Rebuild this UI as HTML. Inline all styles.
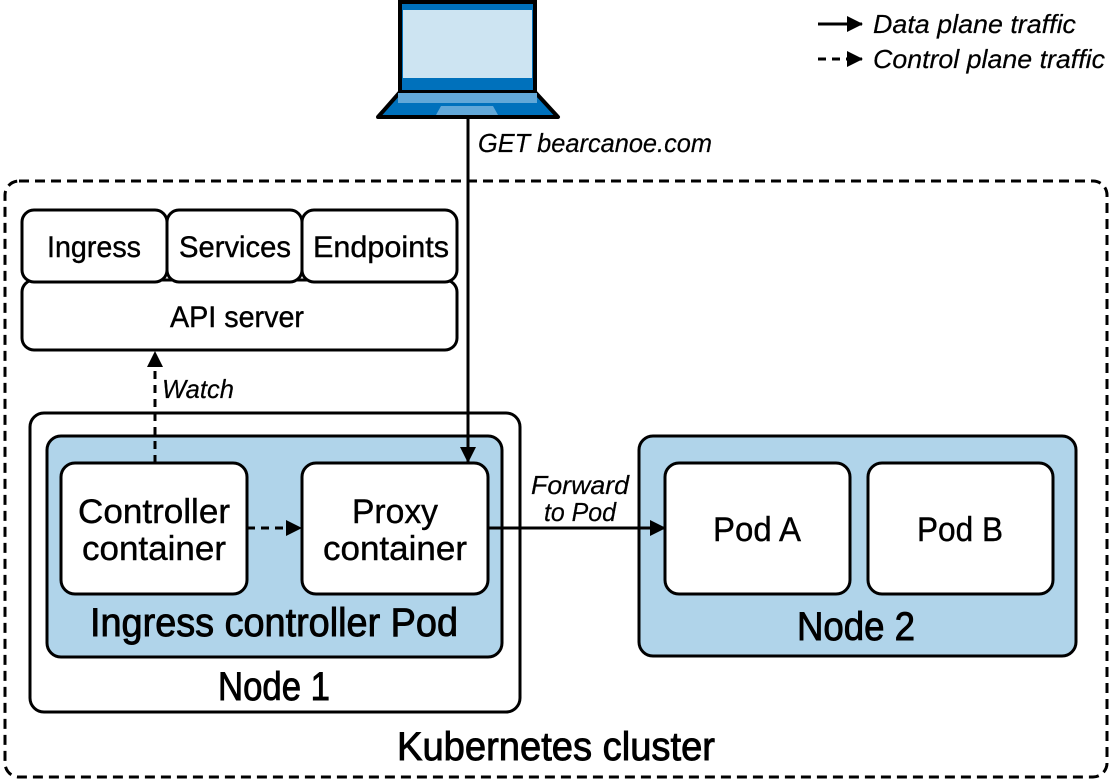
<!DOCTYPE html>
<html><head><meta charset="utf-8"><style>
html,body{margin:0;padding:0;background:#fff;}
svg{display:block;}
text{font-family:"Liberation Sans",sans-serif;fill:#000;stroke:#000;stroke-width:0.4;}
.it{font-style:italic;stroke-width:0.2;}
.big{stroke-width:0.9;}
</style></head><body>
<svg width="1110" height="783" viewBox="0 0 1110 783" xmlns="http://www.w3.org/2000/svg">
<defs>
<marker id="ah2" markerWidth="16" markerHeight="16" refX="15" refY="8" orient="auto" markerUnits="userSpaceOnUse">
<path d="M0,0 L16,8 L0,16 Z" fill="#000"/>
</marker>
</defs>
<rect x="5" y="181" width="1102" height="596" rx="14" fill="none" stroke="#000" stroke-width="3" stroke-dasharray="10,6"/>
<rect x="400" y="2" width="135" height="90" fill="#0071bc" stroke="#000" stroke-width="4"/>
<rect x="403" y="10" width="129" height="68" fill="#cde4f2"/>
<path d="M400,92 L535,92 L558,117 L378,117 Z" fill="#0071bc" stroke="#000" stroke-width="4" stroke-linejoin="round"/>
<rect x="398" y="93" width="139" height="10" fill="#62a8d8"/>
<path d="M441,106 L493,106 L498,115 L436,115 Z" fill="#62a8d8"/>
<line x1="818" y1="24" x2="862" y2="24" stroke="#000" stroke-width="3" marker-end="url(#ah2)"/>
<text x="873" y="33" font-size="26" class="it" textLength="203" lengthAdjust="spacingAndGlyphs">Data plane traffic</text>
<line x1="818" y1="59" x2="862" y2="59" stroke="#000" stroke-width="3" stroke-dasharray="8,6" marker-end="url(#ah2)"/>
<text x="873" y="68" font-size="26" class="it" textLength="232" lengthAdjust="spacingAndGlyphs">Control plane traffic</text>
<rect x="22" y="280" width="435" height="70" rx="12" fill="#fff" stroke="#000" stroke-width="3"/>
<rect x="22" y="210" width="145" height="72" rx="12" fill="#fff" stroke="#000" stroke-width="3"/>
<rect x="167" y="210" width="135" height="72" rx="12" fill="#fff" stroke="#000" stroke-width="3"/>
<rect x="302" y="210" width="155" height="72" rx="12" fill="#fff" stroke="#000" stroke-width="3"/>
<text x="94" y="257" font-size="30" text-anchor="middle" textLength="94" lengthAdjust="spacingAndGlyphs">Ingress</text>
<text x="235" y="257" font-size="30" text-anchor="middle" textLength="112" lengthAdjust="spacingAndGlyphs">Services</text>
<text x="381" y="257" font-size="30" text-anchor="middle" textLength="136" lengthAdjust="spacingAndGlyphs">Endpoints</text>
<text x="237" y="327" font-size="30" text-anchor="middle" textLength="134" lengthAdjust="spacingAndGlyphs">API server</text>
<rect x="30" y="413" width="490" height="299" rx="14" fill="#fff" stroke="#000" stroke-width="3"/>
<rect x="47" y="436" width="455" height="221" rx="14" fill="#b0d4ea" stroke="#000" stroke-width="3"/>
<rect x="61" y="463" width="186" height="131" rx="14" fill="#fff" stroke="#000" stroke-width="3"/>
<rect x="302" y="463" width="186" height="131" rx="14" fill="#fff" stroke="#000" stroke-width="3"/>
<text x="154" y="523" font-size="34" text-anchor="middle" textLength="152" lengthAdjust="spacingAndGlyphs">Controller</text>
<text x="154" y="560" font-size="34" text-anchor="middle" textLength="144" lengthAdjust="spacingAndGlyphs">container</text>
<text x="395" y="523" font-size="34" text-anchor="middle" textLength="86" lengthAdjust="spacingAndGlyphs">Proxy</text>
<text x="395" y="560" font-size="34" text-anchor="middle" textLength="144" lengthAdjust="spacingAndGlyphs">container</text>
<text x="274" y="636" font-size="40" class="big" text-anchor="middle" textLength="368" lengthAdjust="spacingAndGlyphs">Ingress controller Pod</text>
<text x="274" y="700" font-size="40" class="big" text-anchor="middle" textLength="112" lengthAdjust="spacingAndGlyphs">Node 1</text>
<rect x="639" y="436" width="437" height="220" rx="14" fill="#b0d4ea" stroke="#000" stroke-width="3"/>
<rect x="665" y="463" width="185" height="131" rx="14" fill="#fff" stroke="#000" stroke-width="3"/>
<rect x="868" y="463" width="185" height="131" rx="14" fill="#fff" stroke="#000" stroke-width="3"/>
<text x="757" y="541" font-size="34" text-anchor="middle" textLength="88" lengthAdjust="spacingAndGlyphs">Pod A</text>
<text x="960" y="541" font-size="34" text-anchor="middle" textLength="86" lengthAdjust="spacingAndGlyphs">Pod B</text>
<text x="856" y="640" font-size="40" class="big" text-anchor="middle" textLength="118" lengthAdjust="spacingAndGlyphs">Node 2</text>
<text x="556" y="760" font-size="40" class="big" text-anchor="middle" textLength="318" lengthAdjust="spacingAndGlyphs">Kubernetes cluster</text>
<line x1="468" y1="118" x2="468" y2="462" stroke="#000" stroke-width="3" marker-end="url(#ah2)"/>
<text x="478" y="152" font-size="26" class="it" textLength="234" lengthAdjust="spacingAndGlyphs">GET bearcanoe.com</text>
<line x1="155" y1="463" x2="155" y2="352" stroke="#000" stroke-width="3" stroke-dasharray="8,6" marker-end="url(#ah2)"/>
<text x="162" y="398" font-size="26" class="it" textLength="72" lengthAdjust="spacingAndGlyphs">Watch</text>
<line x1="247" y1="528" x2="301" y2="528" stroke="#000" stroke-width="3" stroke-dasharray="8,6" marker-end="url(#ah2)"/>
<line x1="488" y1="528" x2="665" y2="528" stroke="#000" stroke-width="3" marker-end="url(#ah2)"/>
<text x="580" y="494" font-size="26" class="it" text-anchor="middle" textLength="98" lengthAdjust="spacingAndGlyphs">Forward</text>
<text x="580" y="521" font-size="26" class="it" text-anchor="middle" textLength="72" lengthAdjust="spacingAndGlyphs">to Pod</text>
</svg>
</body></html>
